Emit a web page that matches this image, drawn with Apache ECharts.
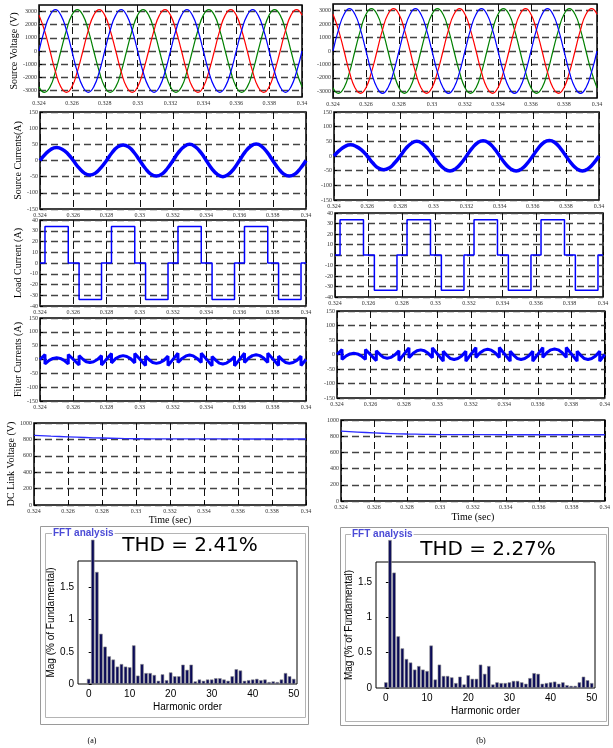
<!DOCTYPE html>
<html>
<head>
<meta charset="utf-8">
<script src="https://cdn.jsdelivr.net/npm/echarts@6/dist/echarts.min.js"></script>
<style>
html, body { margin: 0; padding: 0; background: #fff; }
#chart { width: 613px; height: 748px; }
</style>
</head>
<body>
<div id="chart"></div>
<script>
// ---- data ----
// time base for the sinusoidal traces (s)
const tSine = [0.324, 0.32433, 0.32467, 0.325, 0.32533, 0.32567, 0.326, 0.32633, 0.32667, 0.327, 0.32733, 0.32767,
  0.328, 0.32833, 0.32867, 0.329, 0.32933, 0.32967, 0.33, 0.33033, 0.33067, 0.331, 0.33133, 0.33167,
  0.332, 0.33233, 0.33267, 0.333, 0.33333, 0.33367, 0.334, 0.33433, 0.33467, 0.335, 0.33533, 0.33567,
  0.336, 0.33633, 0.33667, 0.337, 0.33733, 0.33767, 0.338, 0.33833, 0.33867, 0.339, 0.33933, 0.33967, 0.34];

// source voltages (V), same in (a) and (b)
const vPhaseA = [0, 1575, 2730, 3150, 2730, 1575, 0, -1575, -2730, -3150, -2730, -1575,
  0, 1575, 2730, 3150, 2730, 1575, 0, -1575, -2730, -3150, -2730, -1575,
  0, 1575, 2730, 3150, 2730, 1575, 0, -1575, -2730, -3150, -2730, -1575,
  0, 1575, 2730, 3150, 2730, 1575, 0, -1575, -2730, -3150, -2730, -1575, 0];
const vPhaseB = [2730, 1575, 0, -1575, -2730, -3150, -2730, -1575, 0, 1575, 2730, 3150,
  2730, 1575, 0, -1575, -2730, -3150, -2730, -1575, 0, 1575, 2730, 3150,
  2730, 1575, 0, -1575, -2730, -3150, -2730, -1575, 0, 1575, 2730, 3150,
  2730, 1575, 0, -1575, -2730, -3150, -2730, -1575, 0, 1575, 2730, 3150, 2730];
const vPhaseC = [-2730, -3150, -2730, -1575, 0, 1575, 2730, 3150, 2730, 1575, 0, -1575,
  -2730, -3150, -2730, -1575, 0, 1575, 2730, 3150, 2730, 1575, 0, -1575,
  -2730, -3150, -2730, -1575, 0, 1575, 2730, 3150, 2730, 1575, 0, -1575,
  -2730, -3150, -2730, -1575, 0, 1575, 2730, 3150, 2730, 1575, 0, -1575, -2730];

// source currents (A)
const iSourceA = [0, 20, 35, 40, 35, 21, 0, -22, -39, -45, -39, -22,
  0, 24, 42, 48, 42, 24, 0, -24, -42, -48, -42, -24,
  0, 25, 43, 50, 43, 25, 0, -25, -43, -50, -43, -25,
  0, 26, 44, 51, 44, 25, 0, -24, -42, -48, -42, -24, 0];
const iSourceB = [0, 19, 33, 38, 33, 20, 0, -23, -41, -47, -41, -23,
  0, 25, 43, 50, 43, 25, 0, -25, -44, -51, -44, -25,
  0, 26, 45, 52, 45, 26, 0, -25, -44, -51, -44, -25,
  0, 26, 46, 53, 46, 26, 0, -25, -44, -51, -44, -25, 0];

// load current (A), switching instants listed twice for the vertical edges
const tLoad = [0.324, 0.3243, 0.3243, 0.3257, 0.3257, 0.32635, 0.32635, 0.3277, 0.3277,
  0.3283, 0.3283, 0.3297, 0.3297, 0.33035, 0.33035, 0.3317, 0.3317,
  0.3323, 0.3323, 0.3337, 0.3337, 0.33435, 0.33435, 0.3357, 0.3357,
  0.3363, 0.3363, 0.3377, 0.3377, 0.33835, 0.33835, 0.3397, 0.3397, 0.34];
const iLoadA = [0, 0, 34, 34, 0, 0, -34, -34, 0, 0, 34, 34, 0, 0, -34, -34, 0,
  0, 34, 34, 0, 0, -34, -34, 0, 0, 34, 34, 0, 0, -34, -34, 0, 0];
const iLoadB = [0, 0, 33.5, 33.5, 0, 0, -33.5, -33.5, 0, 0, 33.5, 33.5, 0, 0, -33.5, -33.5, 0,
  0, 33.5, 33.5, 0, 0, -33.5, -33.5, 0, 0, 33.5, 33.5, 0, 0, -33.5, -33.5, 0, 0];

// filter currents (A)
const tFilt = [0.324, 0.3243, 0.3243, 0.32455, 0.32478, 0.325, 0.32522, 0.32545, 0.3257, 0.3257,
  0.32635, 0.32635, 0.3266, 0.32678, 0.327, 0.32722, 0.32745, 0.3277, 0.3277,
  0.3283, 0.3283, 0.32855, 0.32878, 0.329, 0.32922, 0.32945, 0.3297, 0.3297,
  0.33035, 0.33035, 0.3306, 0.33078, 0.331, 0.33122, 0.33145, 0.3317, 0.3317,
  0.3323, 0.3323, 0.33255, 0.33278, 0.333, 0.33322, 0.33345, 0.3337, 0.3337,
  0.33435, 0.33435, 0.3346, 0.33478, 0.335, 0.33522, 0.33545, 0.3357, 0.3357,
  0.3363, 0.3363, 0.33655, 0.33678, 0.337, 0.33722, 0.33745, 0.3377, 0.3377,
  0.33835, 0.33835, 0.3386, 0.33878, 0.339, 0.33922, 0.33945, 0.3397, 0.3397, 0.34];
const iFiltA = [0, 18, -16, -3, 4, 6, 4, -3, -16, 18, -20, 14, 0, -8, -11, -8, 0, 14, -20,
  22, -12, 3, 11, 14, 11, 3, -12, 22, -22, 12, -3, -11, -14, -11, -3, 12, -22,
  23, -11, 4, 13, 16, 13, 4, -11, 23, -23, 11, -4, -13, -16, -13, -4, 11, -23,
  23, -11, 5, 14, 17, 14, 5, -11, 23, -22, 12, -3, -11, -14, -11, -3, 12, -22, 0];
const iFiltB = [0, 17, -17, -5, 2, 4, 2, -5, -17, 17, -21, 13, -2, -10, -13, -10, -2, 13, -21,
  23, -11, 4, 13, 16, 13, 4, -11, 23, -23, 11, -5, -14, -17, -14, -5, 11, -23,
  24, -10, 6, 15, 18, 15, 6, -10, 24, -23, 11, -5, -14, -17, -14, -5, 11, -23,
  24, -10, 7, 16, 19, 16, 7, -10, 24, -23, 11, -5, -14, -17, -14, -5, 11, -23, 0];

// DC link voltage (V)
const tDc = [0.324, 0.325, 0.326, 0.327, 0.328, 0.329, 0.33, 0.332, 0.334, 0.336, 0.338, 0.34];
const vDcA = [850, 840, 831, 823, 817, 812, 808, 806, 806, 805, 805, 805];
const vDcB = [862, 851, 841, 833, 827, 823, 820, 819, 818, 818, 818, 818];

// FFT spectra (% of fundamental); order 1 is the clipped fundamental bar
const harmonics = [0, 1, 2, 3, 4, 5, 6, 7, 8, 9, 10, 11, 12, 13, 14, 15, 16, 17, 18, 19, 20,
  21, 22, 23, 24, 25, 26, 27, 28, 29, 30, 31, 32, 33, 34, 35, 36, 37, 38, 39, 40,
  41, 42, 43, 44, 45, 46, 47, 48, 49, 50];
const magA = [0.08, 2.24, 1.74, 0.78, 0.58, 0.43, 0.38, 0.27, 0.31, 0.27, 0.26, 0.60, 0.13, 0.31, 0.17,
  0.17, 0.14, 0.05, 0.15, 0.06, 0.18, 0.12, 0.12, 0.30, 0.22, 0.30, 0.04, 0.07, 0.05, 0.07, 0.07,
  0.09, 0.09, 0.07, 0.05, 0.12, 0.23, 0.21, 0.05, 0.06, 0.07, 0.08, 0.06, 0.07, 0.03, 0.04, 0.03,
  0.07, 0.17, 0.12, 0.08];
const magB = [0.08, 2.09, 1.63, 0.73, 0.56, 0.41, 0.36, 0.26, 0.31, 0.26, 0.24, 0.60, 0.12, 0.33, 0.17,
  0.17, 0.15, 0.07, 0.16, 0.05, 0.18, 0.13, 0.13, 0.33, 0.20, 0.31, 0.05, 0.08, 0.07, 0.07, 0.08,
  0.10, 0.10, 0.08, 0.06, 0.14, 0.21, 0.20, 0.06, 0.07, 0.08, 0.09, 0.06, 0.08, 0.04, 0.03, 0.03,
  0.08, 0.16, 0.11, 0.07];

// tick labels
const timeTicks = [0.324, 0.326, 0.328, 0.33, 0.332, 0.334, 0.336, 0.338, 0.34];
const voltTicks = [-3000, -2000, -1000, 0, 1000, 2000, 3000];
const currTicks = [-150, -100, -50, 0, 50, 100, 150];
const loadTicks = [-40, -30, -20, -10, 0, 10, 20, 30, 40];
const dcTicks = [0, 200, 400, 600, 800, 1000];
const fftXTicks = [0, 10, 20, 30, 40, 50];
const fftYTicks = [0, 0.5, 1, 1.5];

// ---- chart ----
const SERIF = 'Liberation Serif';
const SANS = 'Liberation Sans';
const chart = echarts.init(document.getElementById('chart'));

const grids = [], xAxes = [], yAxes = [], series = [];
const zip = (xs, ys) => xs.map((x, i) => [x, ys[i]]);
const plain = v => String(Math.round(v * 1000) / 1000);

function timePanel(box, yMin, yMax, yTicks, yName, nameGap, timeGap) {
  const idx = grids.length;
  grids.push({ left: box[0], top: box[1], width: box[2], height: box[3], show: true,
    borderColor: '#000', borderWidth: 1.5, backgroundColor: '#fff' });
  xAxes.push({
    gridIndex: idx, type: 'value', min: 0.324, max: 0.34,
    axisLine: { show: false },
    axisTick: { show: true, inside: true, length: 3, customValues: timeTicks, lineStyle: { color: '#000' } },
    axisLabel: { customValues: timeTicks, fontFamily: SERIF, fontSize: 6, color: '#333', margin: 3, formatter: plain },
    splitLine: { show: true, lineStyle: { color: '#111', width: 1, type: [7, 4] } },
    name: timeGap ? 'Time (sec)' : '', nameLocation: 'middle', nameGap: timeGap || 0,
    nameTextStyle: { fontFamily: SERIF, fontSize: 10, color: '#000' }
  });
  yAxes.push({
    gridIndex: idx, type: 'value', min: yMin, max: yMax,
    axisLine: { show: false },
    axisTick: { show: true, inside: true, length: 3, customValues: yTicks, lineStyle: { color: '#000' } },
    axisLabel: { customValues: yTicks, fontFamily: SERIF, fontSize: 6, color: '#333', margin: 2, formatter: plain },
    splitLine: { show: true, lineStyle: { color: '#444', width: 1.3, type: [7, 4] } },
    name: yName, nameLocation: 'middle', nameGap: nameGap,
    nameTextStyle: { fontFamily: SERIF, fontSize: 10, color: '#000' }
  });
  return idx;
}

function line(idx, xs, ys, color, width, smooth) {
  series.push({ type: 'line', xAxisIndex: idx, yAxisIndex: idx, data: zip(xs, ys),
    showSymbol: false, symbol: 'none', smooth: smooth || false,
    lineStyle: { color: color, width: width }, silent: true });
}

const BLUE = '#0000ff', RED = '#ff0000', GREEN = '#008000';

// column (a)
let g = timePanel([39, 5, 263, 92], -3500, 3500, voltTicks, 'Source Voltage (V)', 16);
line(g, tSine, vPhaseC, GREEN, 1.2, true);
line(g, tSine, vPhaseB, RED, 1.2, true);
line(g, tSine, vPhaseA, BLUE, 1.2, true);
g = timePanel([40, 112, 266, 97], -150, 150, currTicks, 'Source Currents(A)', 17);
line(g, tSine, iSourceA, BLUE, 3.5, true);
g = timePanel([40, 220, 266, 86], -40, 40, loadTicks, 'Load Current (A)', 17);
line(g, tLoad, iLoadA, BLUE, 1.5);
g = timePanel([40, 318, 266, 83], -150, 150, currTicks, 'Filter Currents (A)', 15);
line(g, tFilt, iFiltA, BLUE, 3);
g = timePanel([34, 423, 272, 82], 0, 1000, dcTicks, 'DC Link Voltage (V)', 4, 8);
line(g, tDc, vDcA, '#2b2bff', 1.3, true);

// column (b)
g = timePanel([333, 4, 264, 94], -3500, 3500, voltTicks, '', 0);
line(g, tSine, vPhaseC, GREEN, 1.2, true);
line(g, tSine, vPhaseB, RED, 1.2, true);
line(g, tSine, vPhaseA, BLUE, 1.2, true);
g = timePanel([334, 112, 265, 88], -150, 150, currTicks, '', 0);
line(g, tSine, iSourceB, BLUE, 3.5, true);
g = timePanel([335, 213, 268, 84], -40, 40, loadTicks, '', 0);
line(g, tLoad, iLoadB, BLUE, 1.5);
g = timePanel([337, 311, 269, 87], -150, 150, currTicks, '', 0);
line(g, tFilt, iFiltB, BLUE, 3);
g = timePanel([341, 420, 264, 81], 0, 1000, dcTicks, '', 0, 11);
line(g, tDc, vDcB, '#2b2bff', 1.3, true);

// FFT panels
function fftPanel(box, xMin, yMax, mags) {
  const idx = grids.length;
  grids.push({ left: box[0], top: box[1], width: box[2], height: box[3], show: true,
    borderColor: '#000', borderWidth: 1, backgroundColor: '#fff' });
  xAxes.push({
    gridIndex: idx, type: 'value', min: xMin, max: 50.8,
    axisLine: { show: false },
    axisTick: { show: true, inside: true, length: 3, customValues: fftXTicks, lineStyle: { color: '#000' } },
    axisLabel: { customValues: fftXTicks, fontFamily: SANS, fontSize: 10, color: '#000', margin: 5 },
    splitLine: { show: false },
    name: 'Harmonic order', nameLocation: 'middle', nameGap: 18,
    nameTextStyle: { fontFamily: SANS, fontSize: 10, color: '#000' }
  });
  yAxes.push({
    gridIndex: idx, type: 'value', min: 0, max: yMax,
    axisLine: { show: false },
    axisTick: { show: true, inside: true, length: 3, customValues: fftYTicks, lineStyle: { color: '#000' } },
    axisLabel: { customValues: fftYTicks, fontFamily: SANS, fontSize: 10, color: '#000', margin: 4, formatter: plain },
    splitLine: { show: false },
    name: 'Mag (% of Fundamental)', nameLocation: 'middle', nameGap: 21,
    nameTextStyle: { fontFamily: SANS, fontSize: 10, color: '#000' }
  });
  series.push({ type: 'bar', xAxisIndex: idx, yAxisIndex: idx, data: zip(harmonics, mags),
    barWidth: 3.4, clip: false, silent: true,
    itemStyle: { color: '#0a0a58', borderColor: '#8c8c8c', borderWidth: 0.6 } });
}
fftPanel([78, 561, 219, 123], -2.6, 1.91, magA);
fftPanel([376, 562, 219, 126], -2.4, 1.78, magB);

function frame(x, y, w, h, ix, iy, iw, ih, tx, thdX, thdY, thd) {
  return [
    { type: 'rect', z: 0, shape: { x: x + 0.5, y: y + 0.5, width: w, height: h },
      style: { fill: 'none', stroke: '#9a9a9a', lineWidth: 1 } },
    { type: 'rect', z: 0, shape: { x: ix + 0.5, y: iy + 0.5, width: iw, height: ih },
      style: { fill: 'none', stroke: '#b4b4b4', lineWidth: 1 } },
    { type: 'text', z: 1, style: { text: 'FFT analysis', x: tx, y: iy + 0.5, verticalAlign: 'middle',
      font: 'bold 10px "Liberation Sans"', fill: '#4b4bd6', backgroundColor: '#fff', padding: [0, 1] } },
    { type: 'text', z: 1, style: { text: thd, x: thdX, y: thdY, align: 'center', verticalAlign: 'middle',
      font: '20px "DejaVu Sans"', fill: '#000' } }
  ];
}

const graphics = [].concat(
  frame(40, 526, 268, 198, 45, 533, 260, 184, 52, 190, 546, 'THD = 2.41%'),
  frame(340, 527, 268, 198, 345, 534, 261, 187, 351, 488, 550, 'THD = 2.27%'),
  [
    { type: 'text', style: { text: '(a)', x: 92, y: 741, align: 'center', verticalAlign: 'middle',
      font: '8px "Liberation Serif"', fill: '#000' } },
    { type: 'text', style: { text: '(b)', x: 481, y: 741, align: 'center', verticalAlign: 'middle',
      font: '8px "Liberation Serif"', fill: '#000' } }
  ]
);

chart.setOption({
  animation: false,
  backgroundColor: '#fff',
  grid: grids,
  xAxis: xAxes,
  yAxis: yAxes,
  series: series,
  graphic: graphics
});
</script>
</body>
</html>
